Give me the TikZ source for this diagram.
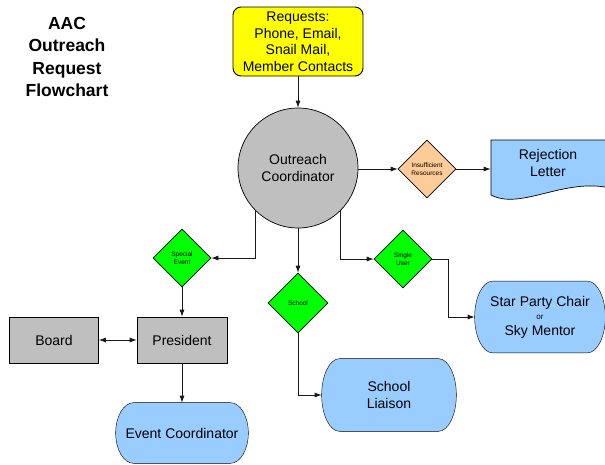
\documentclass[tikz,border=0pt]{standalone}
\usepackage{fontspec}
\setmainfont{Liberation Sans}
\usetikzlibrary{shapes.geometric,arrows.meta,backgrounds}
\definecolor{request}{rgb}{1, 1, 0}
\definecolor{grey}{rgb}{0.75, 0.75, 0.75}
\definecolor{choice}{rgb}{0, 1, 0}
\definecolor{peach}{rgb}{1, 0.8, 0.6}
\definecolor{sky}{rgb}{0.6, 0.8, 1}
\tikzset{
  >={Latex[length=7pt, width=5pt]},
  box/.style={draw, fill=grey, minimum width=90pt, minimum height=46pt, font=\fontsize{14}{16.5}\selectfont},
  choicebox/.style={draw, diamond, fill=choice, minimum width=58pt, minimum height=58pt, inner sep=0pt, align=center, font=\fontsize{6.5}{7.5}\selectfont},
  endbox/.style={rectangle, inner sep=0pt, align=center, font=\fontsize{14}{16.5}\selectfont},
  link/.style={draw=black!90, ->},
}
\newcommand{\capsule}[2]{%
  \draw [fill=sky] ([xshift=18pt]#1.north west) -- ([xshift=-18pt]#1.north east)
    .. controls ([xshift=-8pt]#1.north east) and ([yshift=#2]#1.east) .. (#1.east)
    .. controls ([yshift=-#2]#1.east) and ([xshift=-8pt]#1.south east) .. ([xshift=-18pt]#1.south east)
    -- ([xshift=18pt]#1.south west)
    .. controls ([xshift=8pt]#1.south west) and ([yshift=-#2]#1.west) .. (#1.west)
    .. controls ([yshift=#2]#1.west) and ([xshift=8pt]#1.north west) .. cycle;}

\begin{document}
\begin{tikzpicture}[x=1pt, y=-1pt, line width=0.7pt]
\useasboundingbox (0,0) rectangle (605,464);
\node [align=center, font=\fontsize{17.5}{22.3}\selectfont\bfseries] (title) at (67,57) {AAC\\Outreach\\Request\\Flowchart};
\node [draw, line width=0.9pt, fill=request, rounded corners=8pt, minimum width=130pt, minimum height=69pt, align=center, font=\fontsize{14}{16.5}\selectfont] (req) at (298,41.5) {Requests:\\Phone, Email,\\Snail Mail,\\Member Contacts};
\node [draw, circle, fill=grey, minimum size=120pt, align=center, font=\fontsize{14}{16.5}\selectfont] (oc) at (298,168) {Outreach\\Coordinator};
\node [choicebox, fill=peach] (ins) at (427,169) {Insufficient\\Resources};
\draw [fill=sky] (491,140) -- (612,140) -- (612,187) -- (605,187) .. controls (560,180) and (520,210) .. (491,195) -- cycle;
\node [minimum width=114pt, inner sep=0pt, align=center, font=\fontsize{14}{16.5}\selectfont] (letter) at (548,163) {Rejection\\Letter};
\node [choicebox] (event) at (182,258) {Special\\Event};
\node [choicebox, minimum width=60pt, minimum height=60pt] (school) at (298,303) {School};
\node [choicebox] (single) at (403,259) {Single\\User};
\node [box] (pres) at (182,340) {President};
\node [box, minimum width=89pt] (board) at (54,340) {Board};
\node [endbox, minimum width=132pt, minimum height=60pt] (evco) at (182,433) {Event Coordinator};
\node [endbox, minimum width=134pt, minimum height=72pt] (liaison) at (389,395) {School\\Liaison};
\node [endbox, minimum width=130pt, minimum height=71pt] (star) at (540,317) {Star Party Chair\\[-3pt]{\fontsize{8}{9}\selectfont or}\\[-1pt]Sky Mentor};
\begin{scope}[on background layer]
\capsule{evco}{16.6pt}
\capsule{liaison}{19.9pt}
\capsule{star}{19.6pt}
\end{scope}
\draw [link] (req) -- (oc);
\draw [link] (oc.east |- ins) -- (ins);
\draw [link] (ins.east) -- (ins.east -| letter.west);
\draw [link] (oc.south west) |- (event);
\draw [link] (oc) -- (school);
\draw [link] (oc.south east) |- (single);
\draw [link] (single.east) -- ++(16,0) |- (star.west);
\draw [link] (event) -- (pres);
\draw [link, <->] (board) -- (pres);
\draw [link] (pres) -- (evco);
\draw [link] (school) |- (liaison);
\end{tikzpicture}
\end{document}
